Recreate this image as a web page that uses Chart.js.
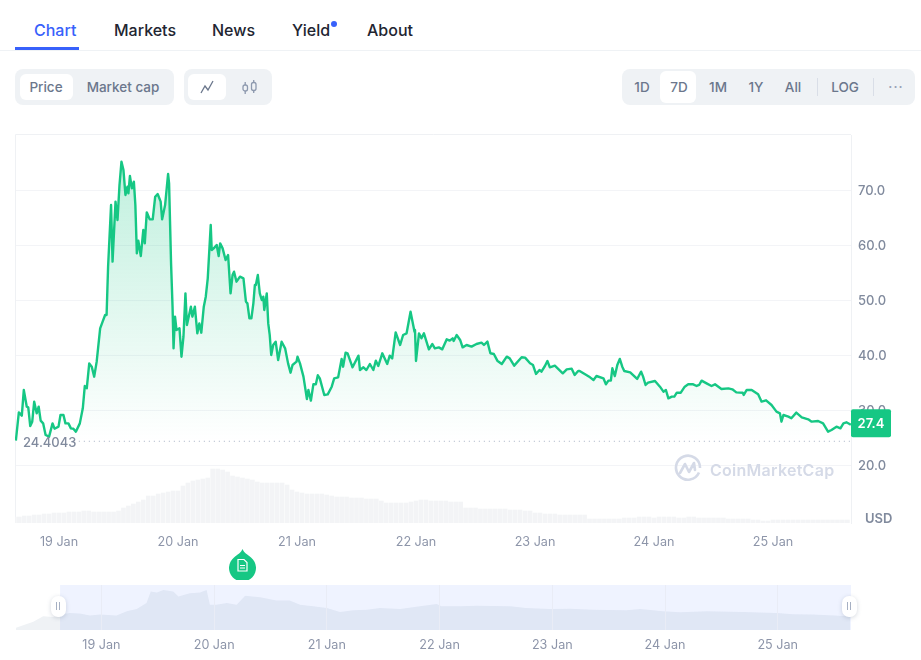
<!DOCTYPE html>
<html>
<head>
<meta charset="utf-8">
<title>Chart</title>
<script src="https://cdn.jsdelivr.net/npm/chart.js@4/dist/chart.umd.min.js"></script>
<style>
    html, body { margin: 0; padding: 0; background: #fff; }
    body { width: 921px; height: 660px; position: relative; overflow: hidden; font-family: Inter, sans-serif; }
    .abs { position: absolute; }
    .tab { position: absolute; top: 20px; line-height: 20px; font-size: 16px; font-weight: 500; color: #222531; }
    .group { position: absolute; top: 69px; height: 36px; background: #eff2f5; border-radius: 8px; }
    .on { position: absolute; top: 74px; height: 26px; background: #fff; border-radius: 6px; }
    .btn { position: absolute; top: 77px; line-height: 20px; font-size: 13.5px; font-weight: 500; color: #6b778c; transform: translateX(-50%); }
    .sep { position: absolute; top: 78px; width: 1px; height: 18px; background: #d9dee7; }
    .handle { position: absolute; top: 596px; width: 15px; height: 21px; background: #fff; border-radius: 7px; box-shadow: 0 1px 4px rgba(88,102,126,.25); }
    .handle i { position: absolute; top: 6px; width: 1px; height: 8px; background: #a6b0c3; }
    canvas { position: absolute; left: 0; }
</style>
</head>
<body>
    <div class="tab" style="left:34px;color:#3861fb">Chart</div>
    <div class="tab" style="left:114px">Markets</div>
    <div class="tab" style="left:212px">News</div>
    <div class="tab" style="left:292px">Yield</div>
    <div class="tab" style="left:367px">About</div>
    <div class="abs" style="left:331px;top:21px;width:6px;height:6px;border-radius:50%;background:#3861fb"></div>
    <div class="abs" style="left:0;top:50px;width:921px;height:1px;background:#eff2f5"></div>
    <div class="abs" style="left:15px;top:47px;width:64px;height:3px;background:#3861fb"></div>

    <div class="group" style="left:15px;width:159px"></div>
    <div class="on" style="left:20px;width:53px"></div>
    <div class="btn" style="left:46px">Price</div>
    <div class="btn" style="left:123px">Market cap</div>

    <div class="group" style="left:184px;width:88px"></div>
    <div class="on" style="left:188px;width:38px"></div>
    <svg class="abs" style="left:200px;top:80px" width="15" height="14" fill="none" stroke="#6b778c" stroke-width="1.3">
        <path d="M1 13L5 6l3 4 5-9"/>
    </svg>
    <svg class="abs" style="left:241px;top:79px" width="17" height="16" fill="none" stroke="#8d99ae" stroke-width="1.3">
        <rect x="2" y="6" width="4.5" height="6" rx="2"/><path d="M4.2 3v3M4.2 12v3"/>
        <rect x="10.5" y="3.5" width="4.5" height="8" rx="2"/><path d="M12.7 1v2.5M12.7 11.5v2.5"/>
    </svg>

    <div class="group" style="left:622px;width:293px"></div>
    <div class="on" style="left:660px;width:36px;top:71px;height:32px"></div>
    <div class="btn" style="left:642px">1D</div>
    <div class="btn" style="left:679px">7D</div>
    <div class="btn" style="left:718px">1M</div>
    <div class="btn" style="left:756px">1Y</div>
    <div class="btn" style="left:793px">All</div>
    <div class="sep" style="left:817px"></div>
    <div class="btn" style="left:845px">LOG</div>
    <div class="sep" style="left:873px"></div>
    <div class="btn" style="left:896px;color:#98a2b5;letter-spacing:1px;top:77px">···</div>

    <canvas id="mainChart" width="921" height="440" style="top:120px"></canvas>
    <canvas id="navChart" width="921" height="80" style="top:580px"></canvas>

    <!-- watermark -->
    <svg class="abs" style="left:674px;top:454px" width="28" height="28" fill="none" stroke="#d5dae7" stroke-width="2.6">
        <path d="M25 18.5A12 12 0 1 1 26 14"/>
        <path d="M6 19l5-9 4 8 5-9 1 7" stroke-linejoin="round" stroke-linecap="round"/>
    </svg>
    <div class="abs" style="left:710px;top:459px;line-height:22px;font-size:16px;font-weight:600;color:#d5dae7;letter-spacing:.27px">CoinMarketCap</div>

    <!-- note pin -->
    <svg class="abs" style="left:228px;top:548px" width="29" height="32">
        <path d="M14.5 1C16 5 19 6 23 9.5A13.5 13.5 0 1 1 6 9.5C10 6 13 5 14.5 1Z" fill="#16c784"/>
        <path d="M10 11.5h6l3 3v8.5h-9zM12 17.5h5M12 20h5" fill="none" stroke="#fff" stroke-width="1.2"/>
    </svg>

    <div class="handle" style="left:51px"><i style="left:5px"></i><i style="left:8px"></i></div>
    <div class="handle" style="left:842px"><i style="left:5px"></i><i style="left:8px"></i></div>

<script>
// Hours counted from 19 Jan 00:00
const priceHours = [
    -8.7, -8.1, -7.5, -7.1, -6.5, -6.2, -5.8, -5.4, -5.0, -4.5, -4.1, -3.7, -3.2, -2.7, -2.0, -1.3, -0.9, -0.1,
    0.3, 0.9, 1.3, 1.9, 2.4, 2.9, 3.4, 4.2, 4.8, 5.2, 5.6, 6.1, 6.6, 7.1, 7.6, 8.3, 8.8, 9.3, 9.6, 9.9,
    10.5, 10.8, 11.4, 11.8, 12.2, 12.6, 13.0, 13.4, 13.8, 14.0, 14.3, 14.7, 15.1, 15.4, 15.7, 16.0, 16.5, 17.0, 17.3, 17.7,
    18.3, 18.9, 19.4, 19.9, 20.5, 20.8, 21.4, 22.0, 22.2, 22.6, 22.9, 23.1, 23.4, 23.7, 24.3, 24.7, 25.1, 25.5, 25.8,
    26.6, 26.9, 27.4, 27.9, 28.3, 28.7, 29.2, 29.6, 30.0, 30.6, 30.8, 31.2, 31.8, 32.2, 32.5, 33.0, 33.6, 34.1, 34.6,
    35.0, 35.3, 35.8, 36.5, 37.2, 37.7, 38.0, 38.4, 38.8, 39.2, 39.5, 39.7, 40.1, 40.5, 40.9, 41.2, 41.4, 41.9,
    42.2, 42.5, 42.8, 43.2, 43.7, 44.2, 44.9, 45.6, 46.2, 46.7, 47.1, 47.9, 48.1, 48.6,
    49.3, 50.0, 50.3, 50.8, 51.3, 51.8, 52.2, 52.6, 53.5, 54.2, 55.0, 55.5, 56.3, 57.0, 57.3, 57.8, 58.2, 59.2,
    60.4, 60.7, 61.4, 62.0, 62.7, 63.4, 63.9, 64.4, 65.2, 66.2, 66.7, 67.2, 67.9, 68.8, 69.4, 70.1, 70.9, 71.3, 71.7, 71.8,
    72.0, 72.6, 73.1, 73.6, 74.6, 75.3, 75.8, 76.6, 77.3, 78.2, 78.8, 79.4, 79.6, 80.2, 80.9, 81.4, 82.2, 83.2, 84.2, 85.2,
    85.7, 86.4, 87.0, 87.7, 88.4, 89.3, 90.3, 90.9, 91.8, 93.3, 94.0, 95.0, 95.6, 96.2, 96.9, 97.3, 98.0, 98.5, 99.0,
    100.0, 101.6, 102.4, 103.4, 104.0, 104.7, 105.0, 106.1, 107.1, 107.8, 108.4, 109.8, 110.3, 110.8, 111.3, 111.6,
    112.1, 112.6, 113.1, 113.6, 114.0, 115.2, 116.6, 117.4, 117.8, 118.3, 118.8, 120.2, 121.2, 121.9, 122.4, 122.9,
    123.6, 124.1, 124.6, 125.4, 126.2, 126.9, 127.9, 128.6, 129.1, 129.6, 130.6, 131.6, 132.3, 133.6, 135.0, 135.8,
    136.6, 137.9, 138.1, 138.7, 139.7, 141.0, 141.7, 142.6, 143.7, 144.7, 145.4, 145.7, 146.1, 147.1, 147.7, 148.7,
    149.8, 151.1, 151.8, 153.1, 154.1, 155.1, 155.8, 156.8, 157.6, 158.2, 158.8, 159.7
];
const priceValues = [
    24.51, 29.66, 29.06, 33.72, 30.69, 30.57, 27.18, 27.97, 31.6, 29.48, 30.69, 28.15, 27.66, 25.54, 25.24, 27.66, 26.69, 27.06,
    29.18, 29.18, 27.66, 27.66, 26.75, 26.69, 26.15, 27.66, 30.39, 34.45, 34.03, 38.57, 37.97, 36.15, 38.88, 44.94, 46.15, 47.36, 47.36, 56.15,
    67.36, 57.06, 67.97, 64.63, 71.0, 75.24, 73.72, 69.18, 70.69, 69.48, 72.63, 70.39, 71.6, 67.36, 58.57, 60.87, 58.09, 62.81, 60.39, 66.03,
    64.75, 64.75, 68.87, 69.36, 67.97, 64.75, 67.36, 73.0, 71.3, 56.75, 48.87, 41.3, 47.06, 44.63, 44.94, 39.78, 43.42, 51.3, 45.54,
    48.87, 47.06, 48.87, 44.03, 45.84, 44.15, 48.87, 50.69, 54.03, 63.72, 59.18, 59.48, 60.09, 58.09, 60.39, 59.48, 57.36, 58.27, 51.3,
    54.63, 55.24, 53.42, 54.33, 54.03, 49.78, 49.48, 46.75, 46.75, 49.48, 52.81, 52.81, 54.63, 51.3, 50.09, 50.69, 48.27, 51.3,
    45.84, 43.72, 40.09, 41.9, 42.51, 39.18, 42.51, 41.3, 38.57, 36.87, 38.27, 38.88, 39.78, 38.57,
    36.15, 32.09, 33.73, 31.79, 34.76, 34.76, 36.4, 35.85, 32.82, 32.94, 34.33, 35.85, 36.03, 39.36, 37.97, 40.52, 40.4, 37.85,
    39.97, 37.36, 37.85, 37.36, 38.45, 37.36, 39.06, 38.09, 40.4, 38.45, 39.97, 39.48, 44.21, 41.91, 43.73, 44.03, 47.97, 46.15, 44.33, 44.64,
    39.0, 44.03, 43.12, 44.03, 41.12, 42.09, 41.3, 41.48, 41.12, 42.94, 42.7, 43.12, 42.64, 43.73, 42.82, 41.48, 41.91, 41.61, 42.09, 42.33,
    41.91, 42.52, 40.4, 40.27, 39.06, 38.45, 39.79, 39.48, 38.15, 39.67, 39.61, 38.58, 38.27, 36.64, 37.36, 37.06, 38.09, 39.0, 37.85,
    38.15, 36.76, 37.48, 37.61, 36.45, 37.18, 37.18, 36.58, 36.03, 35.55, 36.27, 35.85, 34.76, 35.43, 35.43, 37.67,
    36.27, 38.27, 39.37, 37.97, 37.18, 36.94, 35.73, 37.06, 36.15, 34.64, 35.06, 35.37, 34.33, 33.43, 33.73, 32.21,
    32.52, 32.52, 33.24, 33.24, 34.33, 34.76, 34.76, 34.46, 34.64, 35.43, 34.94, 34.46, 34.76, 33.91, 34.03, 33.85,
    33.3, 33.24, 32.82, 33.73, 33.73, 32.94, 31.61, 31.85, 31.0, 29.79, 29.48, 27.97, 29.18, 28.88, 28.58, 29.61,
    28.76, 28.4, 27.97, 28.09, 27.67, 26.15, 26.46, 27.06, 26.76, 27.67, 27.85, 27.4
];

// Hourly volume from 18 Jan 15:00, rough scale, no axis in the picture
const volumeValues = [
    6, 6, 7, 7, 8, 8, 9, 9, 10, 10,
    10, 11, 11, 11, 12, 12, 11, 11, 11, 11,
    11, 12, 15, 17, 19, 21, 23, 27, 27, 29,
    30, 31, 32, 32, 37, 40, 42, 43, 44, 45,
    54, 54, 53, 51, 47, 46, 45, 44, 43, 41,
    40, 40, 40, 40, 40, 38, 33, 31, 30, 29,
    29, 29, 29, 28, 27, 26, 26, 26, 25, 25,
    25, 24, 24, 24, 22, 20, 20, 20, 20, 20,
    21, 22, 23, 23, 22, 22, 22, 22, 21, 21,
    21, 15, 15, 15, 14, 14, 14, 14, 14, 14,
    13, 13, 13, 12, 12, 10, 10, 9, 9, 9,
    8, 8, 8, 8, 8, 8, 4, 4, 4, 4,
    4, 4, 4, 5, 5, 5, 6, 6, 6, 5,
    6, 6, 6, 6, 5, 5, 6, 6, 5, 5,
    5, 5, 5, 5, 4, 4, 4, 4, 4, 3,
    3, 2, 2, 3, 3, 3, 3, 3, 3, 3,
    3, 3, 3, 3, 3, 3, 3, 3, 3
];
const volumeStartHour = -9;

// Overview strip below the chart
const navHours = [
    -18.2, -14.5, -12.4, -10.3, -8.8, -6.7, -4.6, -2.4, -0.3, 3.2, 5.4, 7.5, 9.6, 10.5, 11.8, 13.2, 15.3, 16.4, 18.8, 21, 22.4,
    23.1, 24.5, 26.7, 28.8, 30.6, 33.8, 37.3, 40.1, 42.3, 45.1, 48, 50.8, 53.6, 56.5, 59.3, 63.6, 67.8, 71.4, 72.4, 76.3,
    79.9, 87, 90.5, 95.5, 99.8, 104.7, 111.8, 114.7, 119.6, 123.2, 128.9, 136.7, 143.8, 147.3, 151.6, 159.4
];
const navValues = [
    4.2, 15, 25.1, 23.9, 28.1, 31.1, 29.9, 26.3, 28.1, 26.3, 34.1, 38.3, 49, 70, 68.2, 73, 70, 61, 67, 68.2, 73,
    46, 46, 49, 46, 62.2, 59.8, 53.8, 53.8, 46, 43.1, 40.1, 32.9, 35.9, 37.1, 40.1, 38.3, 43.1, 47.2, 43.1, 43.1,
    44.3, 43.1, 40.1, 38.3, 38.9, 37.1, 35.9, 38.3, 34.1, 32.3, 34.1, 32.9, 31.1, 28.7, 28.1, 25.1
];

const dayTicks = [0, 24, 48, 72, 96, 120, 144];
const dayLabels = ['19 Jan', '20 Jan', '21 Jan', '22 Jan', '23 Jan', '24 Jan', '25 Jan'];
const priceTicks = [20, 30, 40, 50, 60, 70];
const baselinePrice = 24.4043;
const baselineLabel = '24.4043';
const lastPrice = 27.4;
const currency = 'USD';

const GREEN = '#16c784';
const LABEL_GREY = '#808a9d';
const DATE_GREY = '#8d95a9';
const FONT = 'Inter, sans-serif';

function asPoints(xs, ys) {
    return xs.map((x, i) => ({ x: x, y: ys[i] }));
}

// Area fill fades out towards the opening price
function areaGradient(context) {
    const chart = context.chart;
    if (!chart.chartArea) return 'rgba(22,199,132,0.1)';
    const top = chart.scales.y.getPixelForValue(75);
    const bottom = chart.scales.y.getPixelForValue(baselinePrice);
    const gradient = chart.ctx.createLinearGradient(0, top, 0, bottom);
    gradient.addColorStop(0, 'rgba(22,199,132,0.27)');
    gradient.addColorStop(1, 'rgba(22,199,132,0)');
    return gradient;
}

const mainExtras = {
    id: 'mainExtras',
    beforeDatasetsDraw(chart) {
        const { ctx, chartArea } = chart;
        ctx.save();
        ctx.strokeStyle = '#eff1f4';
        ctx.lineWidth = 1;
        ctx.beginPath();
        ctx.moveTo(chartArea.left + 0.5, chartArea.bottom);
        ctx.lineTo(chartArea.left + 0.5, chartArea.top - 0.5);
        ctx.lineTo(chartArea.right, chartArea.top - 0.5);
        ctx.stroke();
        ctx.restore();
    },
    afterDraw(chart) {
        const { ctx, chartArea, scales } = chart;
        ctx.save();

        // Opening price label
        ctx.font = '500 13px ' + FONT;
        ctx.fillStyle = LABEL_GREY;
        ctx.textAlign = 'left';
        ctx.textBaseline = 'middle';
        ctx.fillText(baselineLabel, chartArea.left + 8, scales.y.getPixelForValue(baselinePrice) + 2);

        // Current price badge
        const badgeY = scales.y.getPixelForValue(lastPrice) - 1.5;
        ctx.fillStyle = GREEN;
        ctx.beginPath();
        ctx.roundRect(chartArea.right, badgeY - 14, 40, 28, 2);
        ctx.fill();
        ctx.font = '600 13px ' + FONT;
        ctx.fillStyle = '#fff';
        ctx.textAlign = 'center';
        ctx.fillText(lastPrice.toFixed(1), chartArea.right + 20, badgeY + 1);

        // Currency label
        ctx.font = '600 13px ' + FONT;
        ctx.fillStyle = LABEL_GREY;
        ctx.textAlign = 'left';
        ctx.fillText(currency, chartArea.right + 14, chartArea.bottom - 4);
        ctx.restore();
    }
};

const mainChart = new Chart(document.getElementById('mainChart'), {
    data: {
        datasets: [
            {
                type: 'line',
                data: asPoints(priceHours, priceValues),
                borderColor: GREEN,
                borderWidth: 2.4,
                borderJoinStyle: 'round',
                pointRadius: 0,
                tension: 0,
                fill: { value: baselinePrice },
                backgroundColor: areaGradient,
                yAxisID: 'y',
                order: 1
            },
            {
                type: 'line',
                data: [{ x: 4, y: baselinePrice }, { x: 159.7, y: baselinePrice }],
                borderColor: '#a6b0c3',
                borderWidth: 1,
                borderDash: [1, 4],
                pointRadius: 0,
                fill: false,
                yAxisID: 'y',
                order: 2
            },
            {
                type: 'bar',
                data: volumeValues.map((v, i) => ({ x: volumeStartHour + i, y: v })),
                backgroundColor: '#f3f4f6',
                barThickness: 4,
                yAxisID: 'volume',
                order: 3
            }
        ]
    },
    options: {
        responsive: false,
        animation: false,
        layout: { padding: { left: 15, top: 15 } },
        plugins: { legend: { display: false }, tooltip: { enabled: false } },
        scales: {
            x: {
                type: 'linear',
                offset: false,
                min: -8.874,
                max: 159.73,
                grid: { display: false },
                border: { display: false },
                afterBuildTicks: axis => { axis.ticks = dayTicks.map(v => ({ value: v })); },
                afterFit: axis => { axis.height = 37; },
                ticks: {
                    autoSkip: false,
                    maxRotation: 0,
                    padding: 4,
                    color: DATE_GREY,
                    font: { family: FONT, size: 12.6 },
                    callback: value => dayLabels[dayTicks.indexOf(value)]
                }
            },
            y: {
                position: 'right',
                min: 9.545,
                max: 80.09,
                grid: { color: '#f3f4f7', drawTicks: false },
                border: { color: '#eff1f4' },
                afterBuildTicks: axis => { axis.ticks = priceTicks.map(v => ({ value: v })); },
                afterFit: axis => { axis.width = 70; },
                ticks: {
                    padding: 7,
                    labelOffset: 1,
                    color: LABEL_GREY,
                    font: { family: FONT, size: 13, weight: '500' },
                    callback: value => value.toFixed(1)
                }
            },
            volume: {
                display: false,
                min: 0,
                max: 388
            }
        }
    },
    plugins: [mainExtras]
});

// Tint over the selected range of the overview strip
const navSelection = {
    id: 'navSelection',
    afterDatasetsDraw(chart) {
        const { ctx, chartArea, scales } = chart;
        const start = scales.x.getPixelForValue(volumeStartHour + 0.2);
        ctx.save();
        ctx.fillStyle = 'rgba(56,97,251,0.08)';
        ctx.fillRect(start, chartArea.top, chartArea.right - start, chartArea.height);
        ctx.restore();
    }
};

const navChart = new Chart(document.getElementById('navChart'), {
    type: 'line',
    data: {
        datasets: [{
            data: asPoints(navHours, navValues),
            borderWidth: 0,
            pointRadius: 0,
            tension: 0,
            fill: 'origin',
            backgroundColor: '#eff2f5'
        }]
    },
    options: {
        responsive: false,
        animation: false,
        layout: { padding: { left: 15, right: 70, top: 5 } },
        plugins: { legend: { display: false }, tooltip: { enabled: false } },
        scales: {
            x: {
                type: 'linear',
                min: -18.4,
                max: 159.6,
                grid: { color: '#e9ecf6', drawTicks: false, z: 1 },
                border: { display: false },
                afterBuildTicks: axis => { axis.ticks = dayTicks.map(v => ({ value: v })); },
                afterFit: axis => { axis.height = 30; },
                ticks: {
                    autoSkip: false,
                    maxRotation: 0,
                    padding: 8,
                    color: DATE_GREY,
                    font: { family: FONT, size: 12.6 },
                    callback: value => dayLabels[dayTicks.indexOf(value)]
                }
            },
            y: { display: false, min: 0, max: 82 }
        }
    },
    plugins: [navSelection]
});
</script>
</body>
</html>
